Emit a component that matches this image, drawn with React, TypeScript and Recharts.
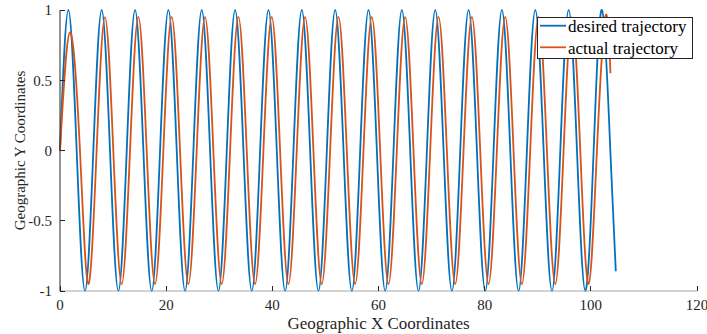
import { LineChart, Line, XAxis, YAxis } from 'recharts'

const xTicks = [0, 20, 40, 60, 80, 100, 120]
const yTicks = [-1, -0.5, 0, 0.5, 1]

// desired trajectory: peaks, troughs and zero crossings
const desiredX = [
  0, 1.57, 3.14, 4.71,
  6.28, 7.85, 9.42, 11.0,
  12.57, 14.14, 15.71, 17.28,
  18.85, 20.42, 21.99, 23.56,
  25.13, 26.7, 28.27, 29.85,
  31.42, 32.99, 34.56, 36.13,
  37.7, 39.27, 40.84, 42.41,
  43.98, 45.55, 47.12, 48.69,
  50.27, 51.84, 53.41, 54.98,
  56.55, 58.12, 59.69, 61.26,
  62.83, 64.4, 65.97, 67.54,
  69.12, 70.69, 72.26, 73.83,
  75.4, 76.97, 78.54, 80.11,
  81.68, 83.25, 84.82, 86.39,
  87.96, 89.54, 91.11, 92.68,
  94.25, 95.82, 97.39, 98.96,
  100.53, 102.1, 103.67, 104.7,
]
const desiredY = [
  0, 1, 0, -1,
  0, 1, 0, -1,
  0, 1, 0, -1,
  0, 1, 0, -1,
  0, 1, 0, -1,
  0, 1, 0, -1,
  0, 1, 0, -1,
  0, 1, 0, -1,
  0, 1, 0, -1,
  0, 1, 0, -1,
  0, 1, 0, -1,
  0, 1, 0, -1,
  0, 1, 0, -1,
  0, 1, 0, -1,
  0, 1, 0, -1,
  0, 1, 0, -1,
  0, 1, 0, -0.86,
]

// actual trajectory: lags a little, slightly smaller swing
const actualX = [
  0, 1.88,
  3.76, 5.33, 6.9, 8.47,
  10.04, 11.62, 13.19, 14.76,
  16.33, 17.9, 19.47, 21.04,
  22.61, 24.18, 25.75, 27.32,
  28.89, 30.47, 32.04, 33.61,
  35.18, 36.75, 38.32, 39.89,
  41.46, 43.03, 44.6, 46.17,
  47.74, 49.31, 50.89, 52.46,
  54.03, 55.6, 57.17, 58.74,
  60.31, 61.88, 63.45, 65.02,
  66.59, 68.16, 69.74, 71.31,
  72.88, 74.45, 76.02, 77.59,
  79.16, 80.73, 82.3, 83.87,
  85.44, 87.01, 88.58, 90.16,
  91.73, 93.3, 94.87, 96.44,
  98.01, 99.58, 101.15, 102.72,
  103.7,
]
const actualY = [
  0, 0.84,
  0, -0.95, 0, 0.95,
  0, -0.95, 0, 0.95,
  0, -0.95, 0, 0.95,
  0, -0.95, 0, 0.95,
  0, -0.95, 0, 0.95,
  0, -0.95, 0, 0.95,
  0, -0.95, 0, 0.95,
  0, -0.95, 0, 0.95,
  0, -0.95, 0, 0.95,
  0, -0.95, 0, 0.95,
  0, -0.95, 0, 0.95,
  0, -0.95, 0, 0.95,
  0, -0.95, 0, 0.95,
  0, -0.95, 0, 0.95,
  0, -0.95, 0, 0.95,
  0, -0.95, 0, 0.95,
  0.55,
]

const desiredData = desiredX.map((x, i) => ({ x, y: desiredY[i] }))
const actualData = actualX.map((x, i) => ({ x, y: actualY[i] }))

const BLUE = '#0072BD'
const ORANGE = '#D95319'
const DARK = '#262626'
const GRAY = '#a6a6a6'
const FONT = '"Liberation Serif", "Times New Roman", serif'

// negative tick size = MATLAB style ticks pointing into the plot
const TICK_IN = -5
const GAP = 8

// eslint-disable-next-line @typescript-eslint/no-explicit-any
function BottomLabel({ x, y, payload }: any) {
  return (
    <text x={x} y={y} dy="0.7em" textAnchor="middle" fontSize={15} fontFamily={FONT} fill={DARK}>
      {payload.value}
    </text>
  )
}

// eslint-disable-next-line @typescript-eslint/no-explicit-any
function LeftLabel({ x, y, payload }: any) {
  return (
    <text x={x} y={y} dy="0.35em" textAnchor="end" fontSize={15} fontFamily={FONT} fill={DARK}>
      {payload.value}
    </text>
  )
}

const NoLabel = () => <g />

const tickLineStyle = { stroke: DARK, strokeWidth: 1, shapeRendering: 'crispEdges' }

function LegendBox() {
  return (
    <svg width={157} height={43} style={{ position: 'absolute', left: 537, top: 17 }}>
      <rect x={0.5} y={0.5} width={155} height={41} fill="#fff" stroke={DARK} strokeWidth={1} />
      <line x1={3} x2={29} y1={8.7} y2={8.7} stroke={BLUE} strokeWidth={1.8} />
      <text x={31} y={14.6} fontSize={17} fontFamily={FONT} fill="#000">desired trajectory</text>
      <line x1={3} x2={29} y1={30.3} y2={30.3} stroke={ORANGE} strokeWidth={1.8} />
      <text x={31} y={36.6} fontSize={17} fontFamily={FONT} fill="#000">actual trajectory</text>
    </svg>
  )
}

export default function App() {
  return (
    <div style={{ position: 'absolute', left: 0, top: 0, width: 707, height: 334, background: '#fff' }}>
      <LineChart width={707} height={334} margin={{ top: 10, right: 10, bottom: 0, left: 0 }}>
        <XAxis
          xAxisId="x"
          type="number"
          dataKey="x"
          domain={[0, 120]}
          ticks={xTicks}
          interval={0}
          height={43}
          tickSize={TICK_IN}
          tickMargin={GAP - TICK_IN}
          tickLine={tickLineStyle}
          axisLine={{ stroke: GRAY }}
          tick={(p) => <BottomLabel {...p} />}
          label={{
            value: 'Geographic X Coordinates',
            position: 'insideBottom',
            offset: 5,
            fontSize: 17,
            fontFamily: FONT,
            fill: DARK,
          }}
        />
        <XAxis
          xAxisId="xTop"
          orientation="top"
          type="number"
          dataKey="x"
          domain={[0, 120]}
          ticks={xTicks}
          interval={0}
          height={0}
          tickSize={TICK_IN}
          tickMargin={0}
          tickLine={tickLineStyle}
          axisLine={{ stroke: GRAY }}
          tick={<NoLabel />}
        />
        <YAxis
          yAxisId="y"
          type="number"
          domain={[-1, 1]}
          ticks={yTicks}
          interval={0}
          width={60}
          tickSize={TICK_IN}
          tickMargin={GAP - TICK_IN}
          tickLine={tickLineStyle}
          axisLine={{ stroke: DARK }}
          tick={(p) => <LeftLabel {...p} />}
          label={{
            value: 'Geographic Y Coordinates',
            angle: -90,
            position: 'insideLeft',
            offset: 20,
            fontSize: 15,
            fontFamily: FONT,
            fill: DARK,
            style: { textAnchor: 'middle' },
          }}
        />
        <YAxis
          yAxisId="yRight"
          orientation="right"
          type="number"
          domain={[-1, 1]}
          ticks={yTicks}
          interval={0}
          width={0}
          tickSize={TICK_IN}
          tickMargin={0}
          tickLine={tickLineStyle}
          axisLine={{ stroke: DARK }}
          tick={<NoLabel />}
        />
        <Line
          xAxisId="x"
          yAxisId="y"
          data={desiredData}
          dataKey="y"
          type="natural"
          stroke={BLUE}
          strokeWidth={1.8}
          dot={false}
          isAnimationActive={false}
        />
        <Line
          xAxisId="x"
          yAxisId="y"
          data={actualData}
          dataKey="y"
          type="natural"
          stroke={ORANGE}
          strokeWidth={1.8}
          dot={false}
          isAnimationActive={false}
        />
      </LineChart>
      <LegendBox />
    </div>
  )
}
